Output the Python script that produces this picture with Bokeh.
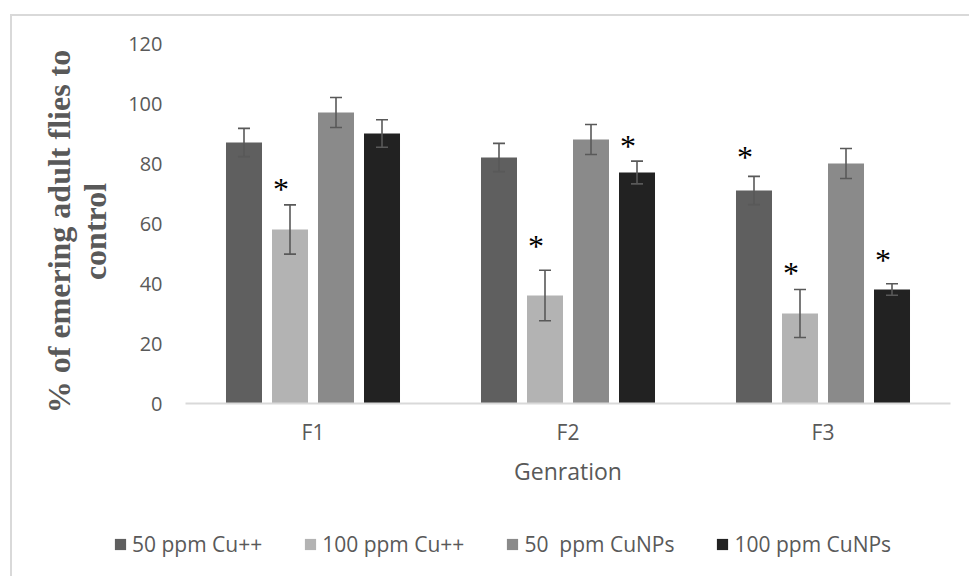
from bokeh.plotting import figure
from bokeh.layouts import column, row
from bokeh.models import ColumnDataSource, FactorRange, Range1d, Legend, LegendItem, FixedTicker
from bokeh.transform import dodge
from bokeh.core.properties import value
from bokeh.embed import file_html
from bokeh.resources import INLINE

# ---- data ----
generations = ["F1", "F2", "F3"]
series_names = ["50 ppm Cu++", "100 ppm Cu++", "50  ppm CuNPs", "100 ppm CuNPs"]
cu50 = [87, 82, 71]
cu50_err = [4.7, 4.7, 4.7]
cu100 = [58, 36, 30]
cu100_err = [8.2, 8.4, 8.0]
np50 = [97, 88, 80]
np50_err = [5.0, 5.0, 5.0]
np100 = [90, 77, 38]
np100_err = [4.6, 3.8, 1.9]
colors = ["#5f5f5f", "#b3b3b3", "#8a8a8a", "#222222"]
y_ticks = [0, 20, 40, 60, 80, 100, 120]

# significance marks: generation, series index, height of the mark
star_generation = ["F1", "F2", "F2", "F3", "F3", "F3"]
star_series = [1, 1, 3, 0, 1, 3]
star_y = [73.5, 54.6, 87.9, 84.1, 45.4, 50.0]

values = [cu50, cu100, np50, np100]
errors = [cu50_err, cu100_err, np50_err, np100_err]

GREY = "#595959"
pitch = 0.1804
bar_w = 0.1412

p = figure(
    x_range=FactorRange(*generations),
    y_range=Range1d(0, 120),
    width=957, height=504,
    output_backend="svg", toolbar_location=None,
    min_border_left=173, min_border_right=19,
    min_border_top=27, min_border_bottom=117,
)
p.outline_line_color = None
p.xgrid.grid_line_color = None
p.ygrid.grid_line_color = None

for i, name in enumerate(series_names):
    off = (i - 1.5) * pitch
    src = ColumnDataSource(dict(
        gen=generations,
        val=values[i],
        upper=[v + e for v, e in zip(values[i], errors[i])],
        lower=[v - e for v, e in zip(values[i], errors[i])],
    ))
    p.vbar(x=dodge("gen", off, range=p.x_range), top="val", bottom=0, width=bar_w,
           source=src, fill_color=colors[i], line_color=None)
    p.segment(x0=dodge("gen", off, range=p.x_range), x1=dodge("gen", off, range=p.x_range),
              y0="lower", y1="upper", source=src, line_color=GREY, line_width=1.6)
    for col in ("upper", "lower"):
        p.scatter(x=dodge("gen", off, range=p.x_range), y=col, source=src, marker="dash",
                  size=12, line_color=GREY, line_width=1.6)

# asterisks
for i in range(4):
    gens = [g for g, s in zip(star_generation, star_series) if s == i]
    ys = [y for y, s in zip(star_y, star_series) if s == i]
    if not gens:
        continue
    ssrc = ColumnDataSource(dict(gen=gens, y=ys, t=["*"] * len(gens)))
    p.text(x=dodge("gen", (i - 1.5) * pitch, range=p.x_range), y="y", text="t", source=ssrc,
           text_font=value("Liberation Serif"), text_font_size="32px", text_color="black",
           text_align="center", text_baseline="middle", x_offset=-9, y_offset=6)

# axes
p.yaxis.ticker = FixedTicker(ticks=y_ticks)
p.yaxis.axis_line_color = None
p.yaxis.major_tick_line_color = None
p.yaxis.minor_tick_line_color = None
p.yaxis.major_label_text_font = "Open Sans"
p.yaxis.major_label_text_font_size = "20px"
p.yaxis.major_label_text_color = GREY
p.yaxis.major_label_standoff = 17
p.yaxis.axis_label = "% of emering adult flies to\u00a0\u00a0\ncontrol\u00a0\u00a0"
p.yaxis.axis_label_text_font = "Liberation Serif"
p.yaxis.axis_label_text_font_style = "bold"
p.yaxis.axis_label_text_font_size = "32px"
p.yaxis.axis_label_text_line_height = 1.0
p.yaxis.axis_label_text_color = GREY
p.yaxis.axis_label_standoff = 12

p.xaxis.axis_line_color = "#d9d9d9"
p.xaxis.axis_line_width = 2
p.xaxis.major_tick_line_color = None
p.xaxis.minor_tick_line_color = None
p.xaxis.major_label_text_font = "Open Sans"
p.xaxis.major_label_text_font_size = "21px"
p.xaxis.major_label_text_color = GREY
p.xaxis.major_label_standoff = 8
p.xaxis.axis_label = "Genration"
p.xaxis.axis_label_text_font = "Open Sans"
p.xaxis.axis_label_text_font_style = "normal"
p.xaxis.axis_label_text_font_size = "23px"
p.xaxis.axis_label_text_color = GREY
p.xaxis.axis_label_standoff = 6

# legend strip below the chart
lf = figure(width=957, height=56, output_backend="svg", toolbar_location=None,
            x_range=Range1d(0, 1), y_range=Range1d(0, 1),
            x_axis_type=None, y_axis_type=None,
            min_border_left=0, min_border_right=0, min_border_top=0, min_border_bottom=0)
lf.outline_line_color = None
lf.xgrid.grid_line_color = None
lf.ygrid.grid_line_color = None
legend_items = []
for i, name in enumerate(series_names):
    esrc = ColumnDataSource(dict(x=[-10.0], top=[0.0]))
    lr = lf.vbar(x="x", top="top", width=0.1, source=esrc, fill_color=colors[i], line_color=None)
    legend_items.append(LegendItem(label=name, renderers=[lr]))
legend = Legend(items=legend_items, orientation="horizontal", location=(101, 18),
                glyph_width=14, glyph_height=14, label_standoff=5, spacing=41,
                padding=0, margin=0, border_line_color=None, background_fill_alpha=0,
                label_text_font="Open Sans", label_text_font_size="21px",
                label_text_color=GREY, label_height=14)
lf.add_layout(legend, "center")

layout = column(p, row(lf), spacing=0)
layout.margin = (14, 0, 0, 10)
layout.styles = {"border-left": "2px solid #d9d9d9", "border-top": "2px solid #d9d9d9"}

open("out.html", "w").write(file_html(layout, INLINE))
